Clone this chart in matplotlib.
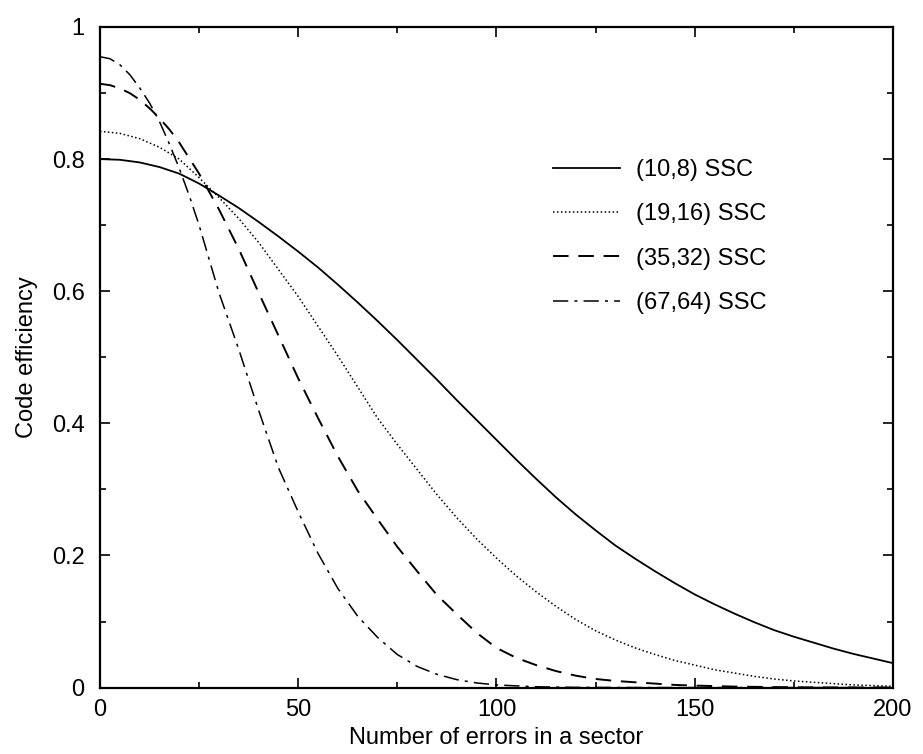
import matplotlib
matplotlib.use("Agg")
import matplotlib.pyplot as plt
from matplotlib.ticker import MultipleLocator

plt.rcParams["font.family"] = ["Liberation Sans", "DejaVu Sans"]

# --- data ---
x_ssc10 = [0, 5, 10, 15, 20, 25, 30, 35, 40, 45, 50, 55, 60, 65, 70, 75, 80, 85, 90, 95,
           100, 105, 110, 115, 120, 125, 130, 135, 140, 145, 150, 155, 160, 165, 170,
           175, 180, 185, 190, 195, 200]
eff_ssc10 = [0.800, 0.799, 0.795, 0.788, 0.778, 0.763, 0.745, 0.726, 0.705, 0.683, 0.660,
             0.636, 0.610, 0.583, 0.555, 0.526, 0.496, 0.466, 0.435, 0.405, 0.375, 0.345,
             0.316, 0.288, 0.262, 0.238, 0.215, 0.195, 0.176, 0.158, 0.141, 0.126, 0.112,
             0.099, 0.087, 0.077, 0.068, 0.059, 0.051, 0.044, 0.037]

x_ssc19 = x_ssc10
eff_ssc19 = [0.842, 0.839, 0.831, 0.818, 0.800, 0.772, 0.742, 0.710, 0.674, 0.633, 0.592,
             0.547, 0.502, 0.455, 0.408, 0.368, 0.330, 0.292, 0.257, 0.225, 0.196, 0.169,
             0.145, 0.123, 0.103, 0.086, 0.072, 0.060, 0.050, 0.041, 0.034, 0.027, 0.022,
             0.017, 0.013, 0.010, 0.008, 0.006, 0.004, 0.003, 0.002]

x_ssc35 = [0, 2.5, 5, 7.5, 10, 12.5, 15, 17.5, 20, 25, 30, 35, 40, 45, 50, 55, 60, 65, 70,
           75, 80, 85, 90, 95, 100, 105, 110, 115, 120, 125, 130, 135, 140, 145, 150, 160,
           170, 180, 190, 200]
eff_ssc35 = [0.914, 0.912, 0.907, 0.900, 0.890, 0.877, 0.862, 0.845, 0.825, 0.778, 0.724,
             0.664, 0.598, 0.533, 0.468, 0.408, 0.350, 0.298, 0.255, 0.213, 0.176, 0.140,
             0.111, 0.083, 0.060, 0.045, 0.034, 0.025, 0.018, 0.013, 0.010, 0.008, 0.006,
             0.004, 0.003, 0.0015, 0.0007, 0.0003, 0.0001, 0.0]

x_ssc67 = [0, 2.5, 5, 7.5, 10, 12.5, 15, 17.5, 20, 22.5, 25, 30, 35, 40, 45, 50, 55, 60,
           65, 70, 75, 80, 85, 90, 95, 100, 110, 120, 130, 140, 200]
eff_ssc67 = [0.955, 0.952, 0.943, 0.928, 0.908, 0.885, 0.857, 0.823, 0.786, 0.745, 0.700,
             0.598, 0.512, 0.420, 0.333, 0.266, 0.203, 0.150, 0.108, 0.076, 0.050, 0.032,
             0.020, 0.012, 0.007, 0.004, 0.0012, 0.0003, 0.0001, 0.0, 0.0]

labels = ["(10,8) SSC", "(19,16) SSC", "(35,32) SSC", "(67,64) SSC"]

# --- figure ---
fig = plt.figure(figsize=(9.23, 7.54), dpi=100)
ax = fig.add_axes([0.1083, 0.0881, 0.8592, 0.8761])

ax.plot(x_ssc10, eff_ssc10, color="black", lw=1.3, ls="-", label=labels[0])
ax.plot(x_ssc19, eff_ssc19, color="black", lw=1.1, ls=(0, (1, 1.6)), label=labels[1])
ax.plot(x_ssc35, eff_ssc35, color="black", lw=1.4, ls=(0, (8, 5)), label=labels[2])
ax.plot(x_ssc67, eff_ssc67, color="black", lw=1.1, ls=(0, (10, 4, 2, 4)), label=labels[3])

ax.set_xlim(0, 200)
ax.set_ylim(0, 1)
ax.xaxis.set_major_locator(MultipleLocator(50))
ax.xaxis.set_minor_locator(MultipleLocator(25))
ax.yaxis.set_minor_locator(MultipleLocator(0.1))
ax.set_yticks([0, 0.2, 0.4, 0.6, 0.8, 1])
ax.set_yticklabels(["0", "0.2", "0.4", "0.6", "0.8", "1"])

ax.tick_params(which="both", direction="in", top=True, right=True,
               labelsize=17, width=1.2)
ax.tick_params(axis="x", pad=8)
ax.tick_params(axis="y", pad=11)
ax.tick_params(which="major", length=7)
ax.tick_params(which="minor", length=4)
for sp in ax.spines.values():
    sp.set_linewidth(1.6)

ax.set_xlabel("Number of errors in a sector", fontsize=17)
ax.set_ylabel("Code efficiency", fontsize=17)
ax.xaxis.set_label_coords(0.5, -0.059)
ax.yaxis.set_label_coords(-0.078, 0.5)

ax.legend(loc="upper left", bbox_to_anchor=(0.559, 0.814), frameon=False,
          fontsize=17, handlelength=2.84, handletextpad=0.68, labelspacing=0.94,
          borderaxespad=0)

fig.savefig("out.png", dpi=100)
